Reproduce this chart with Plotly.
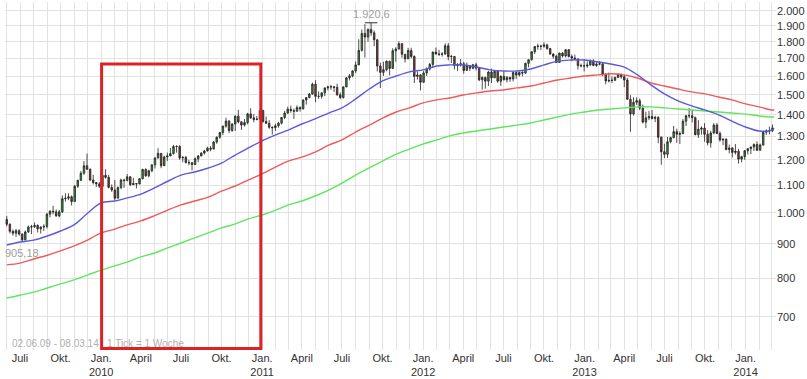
import numpy as np
import pandas as pd
import plotly.graph_objects as go

# ---------------- data (weekly candles, first week starts 2009-06-01) ----------------
first_week = "2009-06-01"

opens = [
    978, 962, 939, 933, 941, 930, 912, 937, 953, 954, 958, 947, 953, 955, 996, 1006, 1004, 990, 1004, 1050,
    1052, 1057, 1040, 1096, 1119, 1146, 1176, 1162, 1120, 1110,
    1105, 1096, 1138, 1130, 1092, 1082, 1052, 1091, 1120, 1118, 1132, 1102, 1106, 1105, 1125, 1161, 1136, 1156,
    1180, 1208, 1227, 1176, 1212, 1216, 1226, 1256, 1256, 1208, 1210, 1189, 1188, 1181, 1204, 1216, 1228, 1237,
    1249, 1245, 1276, 1297, 1318, 1347, 1371, 1327, 1357, 1394, 1367, 1352, 1364, 1405, 1386, 1378, 1380,
    1421, 1369, 1360, 1342, 1340, 1349, 1361, 1388, 1409, 1428, 1421, 1418, 1436, 1430, 1474, 1486, 1504, 1556,
    1492, 1492, 1510, 1536, 1541, 1542, 1539, 1500, 1486, 1541, 1590, 1601, 1628, 1662, 1747, 1852, 1829, 1877,
    1856, 1812, 1656, 1620, 1635, 1683, 1642, 1745, 1755, 1788, 1724, 1697, 1746, 1711, 1598, 1606,
    1566, 1617, 1639, 1665, 1737, 1725, 1724, 1725, 1775, 1710, 1711, 1658, 1662, 1669, 1631, 1659, 1643, 1663,
    1644, 1579, 1592, 1572, 1622, 1590, 1626, 1572, 1598, 1579, 1592, 1584, 1619, 1606, 1620, 1616, 1671, 1692,
    1739, 1770, 1773, 1772, 1780, 1758, 1725, 1712, 1676, 1731, 1714, 1751, 1711, 1702, 1696, 1658,
    1657, 1656, 1661, 1685, 1659, 1667, 1668, 1610, 1573, 1576, 1577, 1592, 1608, 1596, 1578, 1477, 1405, 1462,
    1470, 1433, 1366, 1386, 1392, 1383, 1388, 1297, 1234, 1223, 1277, 1295, 1322, 1310, 1313, 1370, 1396, 1396,
    1387, 1308, 1333, 1338, 1310, 1272, 1316, 1352, 1314, 1285, 1288, 1243, 1250, 1231, 1236, 1203,
    1213, 1238, 1247, 1254, 1265, 1240, 1263, 1319, 1324, 1326,
]
highs = [
    990, 965, 945, 947, 946, 933, 942, 958, 960, 968, 962, 955, 962, 1000, 1010, 1025, 1012, 1010, 1062, 1070,
    1070, 1062, 1101, 1120, 1155, 1195, 1226, 1165, 1140, 1112,
    1112, 1140, 1162, 1140, 1103, 1120, 1095, 1125, 1125, 1143, 1135, 1128, 1108, 1127, 1164, 1166, 1160, 1180,
    1210, 1249, 1228, 1217, 1230, 1250, 1263, 1262, 1262, 1215, 1216, 1200, 1190, 1210, 1220, 1232, 1242, 1255,
    1258, 1279, 1300, 1320, 1350, 1387, 1375, 1360, 1398, 1425, 1370, 1380, 1410, 1432, 1404, 1395, 1423,
    1425, 1392, 1375, 1346, 1358, 1367, 1390, 1419, 1440, 1445, 1431, 1447, 1442, 1476, 1487, 1509, 1564, 1577,
    1518, 1512, 1538, 1548, 1552, 1545, 1558, 1512, 1545, 1594, 1610, 1632, 1682, 1815, 1877, 1912, 1884, 1920.6,
    1870, 1813, 1676, 1680, 1688, 1685, 1760, 1766, 1802, 1790, 1725, 1762, 1763, 1717, 1625, 1610,
    1627, 1648, 1673, 1740, 1764, 1750, 1737, 1790, 1792, 1720, 1713, 1672, 1696, 1680, 1676, 1661, 1668, 1674,
    1648, 1598, 1596, 1628, 1641, 1628, 1627, 1604, 1625, 1600, 1596, 1627, 1623, 1624, 1627, 1675, 1693, 1741,
    1773, 1788, 1781, 1796, 1788, 1762, 1730, 1722, 1734, 1737, 1754, 1755, 1723, 1722, 1699, 1670,
    1694, 1682, 1693, 1695, 1684, 1684, 1672, 1615, 1619, 1598, 1596, 1616, 1614, 1606, 1590, 1498, 1487, 1487,
    1481, 1451, 1416, 1420, 1424, 1396, 1394, 1300, 1268, 1298, 1299, 1348, 1335, 1323, 1380, 1400, 1434, 1424,
    1392, 1375, 1346, 1361, 1329, 1326, 1361, 1362, 1323, 1291, 1292, 1264, 1253, 1267, 1246, 1217,
    1240, 1248, 1256, 1270, 1279, 1269, 1320, 1332, 1345, 1355,
]
lows = [
    955, 932, 925, 921, 925, 905.18, 910, 934, 930, 950, 935, 932, 940, 948, 985, 995, 987, 985, 1000, 1040,
    1045, 1026, 1040, 1090, 1116, 1140, 1160, 1115, 1103, 1093,
    1090, 1094, 1125, 1088, 1075, 1045, 1052, 1085, 1090, 1115, 1097, 1100, 1088, 1103, 1122, 1132, 1130, 1150,
    1165, 1205, 1166, 1175, 1195, 1215, 1222, 1230, 1200, 1190, 1185, 1178, 1157, 1180, 1190, 1215, 1222, 1235,
    1236, 1245, 1268, 1290, 1306, 1340, 1315, 1321, 1325, 1360, 1330, 1345, 1355, 1381, 1365, 1374, 1377,
    1363, 1358, 1335, 1309, 1325, 1340, 1355, 1380, 1405, 1410, 1381, 1415, 1416, 1425, 1450, 1482, 1500, 1462,
    1480, 1480, 1493, 1523, 1526, 1515, 1495, 1478, 1481, 1540, 1576, 1593, 1615, 1662, 1740, 1704, 1800, 1836,
    1772, 1625, 1535, 1600, 1626, 1603, 1641, 1680, 1752, 1704, 1675, 1697, 1700, 1562, 1580, 1523,
    1563, 1600, 1630, 1647, 1723, 1713, 1710, 1720, 1688, 1673, 1636, 1627, 1652, 1613, 1630, 1628, 1637, 1631,
    1572, 1527, 1532, 1546, 1562, 1590, 1563, 1547, 1576, 1565, 1568, 1571, 1583, 1597, 1598, 1612, 1648, 1687,
    1725, 1751, 1749, 1763, 1750, 1722, 1698, 1673, 1676, 1705, 1705, 1705, 1683, 1691, 1636, 1648,
    1626, 1645, 1657, 1655, 1651, 1660, 1599, 1555, 1565, 1562, 1572, 1589, 1585, 1540, 1476, 1321, 1397, 1449,
    1423, 1359, 1338, 1375, 1378, 1366, 1270, 1180, 1207, 1208, 1270, 1292, 1272, 1267, 1311, 1348, 1384, 1364,
    1306, 1294, 1308, 1277, 1261, 1251, 1310, 1310, 1277, 1262, 1240, 1227, 1210, 1222, 1185, 1190,
    1200, 1222, 1224, 1237, 1238, 1240, 1260, 1307, 1309, 1320,
]
closes = [
    962, 939, 933, 941, 930, 912, 937, 953, 954, 958, 947, 953, 955, 996, 1006, 1004, 990, 1004, 1050, 1052,
    1057, 1040, 1096, 1119, 1146, 1176, 1162, 1120, 1110, 1105,
    1096, 1138, 1130, 1092, 1082, 1052, 1091, 1120, 1118, 1132, 1102, 1106, 1105, 1125, 1161, 1136, 1156, 1180,
    1208, 1227, 1176, 1212, 1216, 1226, 1256, 1256, 1208, 1210, 1189, 1188, 1181, 1204, 1216, 1228, 1237, 1249,
    1245, 1276, 1297, 1318, 1347, 1371, 1327, 1357, 1394, 1367, 1352, 1364, 1405, 1386, 1378, 1380, 1421,
    1369, 1360, 1342, 1340, 1349, 1361, 1388, 1409, 1428, 1421, 1418, 1436, 1430, 1474, 1486, 1504, 1556, 1492,
    1492, 1510, 1536, 1541, 1542, 1539, 1500, 1486, 1541, 1590, 1601, 1628, 1662, 1747, 1852, 1829, 1877, 1856,
    1812, 1656, 1620, 1635, 1683, 1642, 1745, 1755, 1788, 1724, 1697, 1746, 1711, 1598, 1606, 1566,
    1617, 1639, 1665, 1737, 1725, 1724, 1725, 1775, 1710, 1711, 1658, 1662, 1669, 1631, 1659, 1643, 1663, 1644,
    1579, 1592, 1572, 1622, 1590, 1626, 1572, 1598, 1579, 1592, 1584, 1619, 1606, 1620, 1616, 1671, 1692, 1739,
    1770, 1773, 1772, 1780, 1758, 1725, 1712, 1676, 1731, 1714, 1751, 1711, 1702, 1696, 1658, 1657,
    1656, 1661, 1685, 1659, 1667, 1668, 1610, 1573, 1576, 1577, 1592, 1608, 1596, 1578, 1477, 1405, 1462, 1470,
    1433, 1366, 1386, 1392, 1383, 1388, 1297, 1234, 1223, 1277, 1295, 1322, 1310, 1313, 1370, 1396, 1396, 1387,
    1308, 1333, 1338, 1310, 1272, 1316, 1352, 1314, 1285, 1288, 1243, 1250, 1231, 1236, 1203, 1213,
    1238, 1247, 1254, 1265, 1240, 1263, 1319, 1324, 1326, 1339,
]

# moving averages, read at each month start (plus the last week)
ma_fast = [896, 905, 911, 924, 940, 961, 999,
           1035, 1042, 1053, 1067, 1089, 1115, 1139, 1151, 1167, 1187, 1220, 1250,
           1281, 1307, 1329, 1357, 1381, 1409, 1434, 1479, 1530, 1573, 1600, 1623,
           1634, 1656, 1662, 1662, 1650, 1634, 1628, 1628, 1639, 1662, 1684, 1690,
           1690, 1679, 1667, 1650, 1606, 1551, 1505, 1469, 1444, 1424, 1400, 1371,
           1343, 1325, 1329, 1338]
ma_mid = [837, 842, 854, 865, 878, 893, 911,
          934, 946, 960, 973, 990, 1010, 1028, 1042, 1056, 1078, 1097, 1120,
          1144, 1171, 1195, 1211, 1232, 1262, 1285, 1320, 1352, 1385, 1414, 1434,
          1459, 1474, 1484, 1499, 1510, 1520, 1525, 1536, 1546, 1562, 1578, 1589,
          1600, 1606, 1612, 1606, 1589, 1562, 1546, 1530, 1515, 1505, 1489, 1474,
          1454, 1439, 1424, 1424]
ma_slow = [747, 754, 762, 773, 784, 795, 808,
           822, 834, 845, 860, 871, 887, 902, 918, 934, 950, 963, 980,
           993, 1010, 1028, 1042, 1060, 1082, 1108, 1139, 1167, 1195, 1224, 1245,
           1267, 1285, 1303, 1316, 1325, 1334, 1343, 1352, 1362, 1376, 1390, 1404,
           1414, 1424, 1429, 1434, 1439, 1439, 1434, 1429, 1424, 1419, 1414, 1409,
           1404, 1395, 1390, 1390]

y_tick_values = [700, 800, 900, 1000, 1100, 1200, 1300, 1400, 1500, 1600, 1700, 1800, 1900, 2000]
y_tick_labels = ["700", "800", "900", "1.000", "1.100", "1.200", "1.300", "1.400", "1.500",
                 "1.600", "1.700", "1.800", "1.900", "2.000"]
month_names = {1: "Jan.", 4: "April", 7: "Juli", 10: "Okt."}

high_label = "1.920,6"
low_label = "905,18"
range_label = "02.06.09 - 08.03.14"
tick_label = "1 Tick = 1 Woche"

# ---------------- build ----------------
dates = pd.date_range(first_week, periods=len(closes), freq="7D")
ma_dates = list(pd.date_range("2009-06-01", "2014-03-01", freq="MS")) + [dates[-1] + pd.Timedelta(days=4)]

months = pd.date_range("2009-06-01", "2014-03-01", freq="MS")
tickvals = list(months)
ticktext = []
for m in months:
    if m.month == 1:
        ticktext.append(f"Jan.<br>{m.year}")
    else:
        ticktext.append(month_names.get(m.month, ""))

peak_i = int(np.argmax(highs))
low_i = int(np.argmin(lows))

fig = go.Figure()
fig.add_trace(go.Scatter(x=ma_dates, y=ma_slow, mode="lines", line=dict(color="#5ee65e", width=1.4, shape="spline"), hoverinfo="skip", showlegend=False))
fig.add_trace(go.Scatter(x=ma_dates, y=ma_mid, mode="lines", line=dict(color="#ee5a5a", width=1.4, shape="spline"), hoverinfo="skip", showlegend=False))
fig.add_trace(go.Scatter(x=ma_dates, y=ma_fast, mode="lines", line=dict(color="#5a5ad8", width=1.4, shape="spline"), hoverinfo="skip", showlegend=False))
fig.add_trace(go.Candlestick(
    x=dates, open=opens, high=highs, low=lows, close=closes,
    increasing=dict(line=dict(color="#222222", width=0.8), fillcolor="#3f8f3f"),
    decreasing=dict(line=dict(color="#222222", width=0.8), fillcolor="#8a3a3a"),
    whiskerwidth=0, showlegend=False,
))
fig.add_trace(go.Scatter(x=[dates[peak_i]], y=[highs[peak_i]], mode="markers",
                         marker=dict(symbol="line-ew", size=9, line=dict(color="#333333", width=1)),
                         hoverinfo="skip", showlegend=False))

fig.add_annotation(x=dates[peak_i], y=np.log10(highs[peak_i]), text=high_label, showarrow=False,
                   yanchor="bottom", yshift=1, font=dict(size=11, color="#a0a0a0"))
fig.add_annotation(x=dates[low_i], y=np.log10(lows[low_i]), text=low_label, showarrow=False,
                   yanchor="top", yshift=-3, font=dict(size=11, color="#a0a0a0"))
fig.add_annotation(xref="paper", yref="paper", x=0.007, y=0.02, xanchor="left", yanchor="middle",
                   text=range_label, showarrow=False, font=dict(size=10, color="#b0b0b0"))
fig.add_annotation(xref="paper", yref="paper", x=0.13, y=0.02, xanchor="left", yanchor="middle",
                   text=tick_label, showarrow=False, font=dict(size=10, color="#b0b0b0"))

fig.add_shape(type="rect", xref="x", yref="y", x0="2010-01-02", x1="2010-12-29", y0=628, y1=1667,
              line=dict(color="#dd2226", width=3), fillcolor="rgba(0,0,0,0)", layer="above")

fig.update_layout(
    width=807, height=379,
    margin=dict(l=5, r=31, t=2, b=29),
    paper_bgcolor="white", plot_bgcolor="white",
    font=dict(family="Liberation Sans, Arial, sans-serif", size=11, color="#333333"),
    hovermode=False,
    xaxis=dict(type="date", range=["2009-05-28", "2014-03-11"], tickvals=tickvals, ticktext=ticktext,
               showgrid=True, gridcolor="#e2e2e2", gridwidth=1, ticks="", ticklen=0, zeroline=False,
               showline=False, rangeslider=dict(visible=False), tickfont=dict(size=11, color="#333333")),
    yaxis=dict(type="log", range=[2.7958, 3.3144], side="right", tickvals=y_tick_values, ticktext=y_tick_labels,
               showgrid=True, gridcolor="#e2e2e2", gridwidth=1, ticks="", ticklen=0, zeroline=False, showline=False,
               tickfont=dict(size=11, color="#333333")),
)

fig.write_html("out.html", config={"displayModeBar": False},
               post_script="document.body.style.margin='0';document.body.style.padding='0';")
